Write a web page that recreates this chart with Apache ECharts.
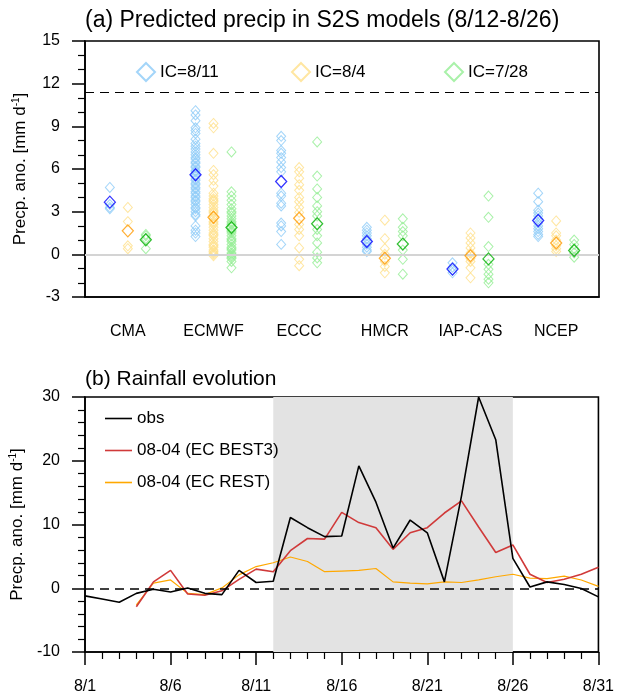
<!DOCTYPE html>
<html>
<head>
<meta charset="utf-8">
<script src="https://cdn.jsdelivr.net/npm/echarts@6/dist/echarts.min.js"></script>
<style>
  html, body { margin: 0; padding: 0; background: #fff; }
  #main { width: 617px; height: 695px; }
</style>
</head>
<body>
<div id="main"></div>
<script>
// models on the x axis of panel (a)
var models = ['CMA', 'ECMWF', 'ECCC', 'HMCR', 'IAP-CAS', 'NCEP'];
var icNames = ['IC=8/11', 'IC=8/4', 'IC=7/28'];

// ensemble members, one list per model, for each initial condition
var membersIC0811 = [
  [4.7, 3.5, 3.3, 3.2],
  [10.1, 9.8, 9.4, 8.9, 8.7, 8.5, 8.1, 7.8, 7.6, 7.4, 7.2, 7.0, 6.8, 6.7, 6.5, 6.4, 6.2, 6.1, 5.9, 5.8,
   5.6, 5.5, 5.3, 5.2, 5.0, 4.9, 4.7, 4.6, 4.4, 4.3, 4.1, 4.0, 3.8, 3.7, 3.5, 3.3, 3.2, 3.0, 2.8, 2.7,
   2.0, 1.7, 1.5, 1.25],
  [8.3, 8.0, 7.3, 7.1, 6.8, 6.5, 6.1, 5.8, 4.3, 4.1, 3.6, 3.4, 2.2, 2.0, 1.6, 0.7],
  [1.9, 1.7, 1.5, 1.3, 1.1, 0.9, 0.7, 0.5, 0.3, 0.2],
  [-0.6, -0.9, -1.1, -1.3],
  [4.3, 3.7, 3.1, 2.9, 2.7, 2.5, 2.2, 2.0, 1.8, 1.6, 1.4, 1.25]
];
var membersIC0804 = [
  [3.3, 2.3, 0.6, 0.4],
  [9.2, 8.9, 7.1, 5.9, 5.6, 5.2, 4.8, 4.3, 4.1, 3.9, 3.8, 3.7, 3.5, 3.3, 3.1, 3.0, 2.9, 2.7, 2.5, 2.3,
   2.2, 2.1, 1.9, 1.7, 1.5, 1.4, 1.3, 1.1, 0.9, 0.7, 0.6, 0.5, 0.3, 0.2, 0.1, 0.0, -0.1],
  [6.1, 5.8, 5.35, 4.9, 4.5, 4.0, 3.7, 3.3, 2.95, 2.1, 1.75, 1.3, 0.45, -0.35, -0.8],
  [2.4, 1.1, 0.4, 0.0, -0.5, -0.85, -1.3],
  [1.5, 1.15, 0.8, 0.45, 0.1, -0.3, -0.5, -0.95, -1.65],
  [2.35, 1.5, 1.3, 1.0, 0.6, 0.4, 0.2]
];
var membersIC0728 = [
  [1.4, 1.3, 1.1, 0.4],
  [7.2, 4.4, 4.1, 3.8, 3.5, 3.2, 3.0, 2.9, 2.7, 2.5, 2.3, 2.2, 2.1, 1.9, 1.7, 1.6, 1.5, 1.3, 1.1, 1.0,
   0.9, 0.7, 0.5, 0.4, 0.3, 0.1, 0.0, -0.1, -0.2, -0.3, -0.5, -0.95],
  [7.9, 5.5, 4.6, 4.0, 3.4, 3.0, 2.7, 1.75, 1.3, 0.8, 0.15, -0.25, -0.6],
  [2.5, 1.9, 1.6, 1.3, 0.3, -0.35, -1.4],
  [4.1, 2.6, 0.55, -0.7, -1.05, -1.4, -1.75, -2.0],
  [1.0, 0.7, 0.4, 0.1, -0.2]
];
// ensemble means
var meanIC0811 = [3.67, 5.6, 5.12, 0.9, -1.04, 2.38];
var meanIC0804 = [1.65, 2.61, 2.54, -0.27, -0.1, 0.79];
var meanIC0728 = [1.02, 1.89, 2.15, 0.72, -0.32, 0.27];
var threshold = 11.4;

// panel (b): daily values, 8/1 ... 8/31
var dayLabels = [];
for (var d = 1; d <= 31; d++) dayLabels.push('8/' + d);
var obs = [-1.2, -1.7, -2.2, -0.8, -0.15, -0.6, 0.05, -0.8, -1.0, 2.8, 0.9, 1.1, 11.1, 9.5, 8.1, 8.2,
  19.2, 13.5, 6.3, 10.7, 8.7, 1.0, 14.5, 30.0, 23.3, 4.7, 0.2, 1.0, 0.6, -0.05, -1.35];
var ecBest3 = [null, null, null, -2.9, 1.0, 2.8, -0.9, -1.1, -0.4, 1.4, 3.0, 2.6, 5.9, 7.8, 7.7, 11.9,
  10.3, 9.5, 6.1, 8.7, 9.5, 11.8, 13.7, 9.6, 5.6, 6.8, 2.2, 0.9, 1.4, 2.2, 3.3];
var ecRest = [null, null, null, -2.6, 0.8, 1.3, -0.8, -1.0, 0.05, 2.1, 3.4, 4.0, 4.9, 4.2, 2.6, 2.7,
  2.8, 3.1, 1.0, 0.8, 0.7, 1.0, 0.9, 1.3, 1.8, 2.2, 1.6, 1.5, 1.9, 1.3, 0.3];
var shadeFrom = '8/12', shadeTo = '8/26';

var memberColors = ['#8ccbf7', '#ffe08a', '#93ee93'];
var meanColors = ['#0000ff', '#ff9a00', '#00b000'];
var offsets = [-0.21, 0, 0.21];
var font = '"Liberation Sans", Arial, Helvetica, sans-serif';

function memberPoints(lists, k) {
  var pts = [];
  lists.forEach(function (vals, i) {
    vals.forEach(function (v) { pts.push([i + offsets[k], v]); });
  });
  return pts;
}
function meanPoints(vals, k) {
  return vals.map(function (v, i) { return [i + offsets[k], v]; });
}
function dayPoints(vals) {
  return vals.map(function (v, i) { return [i, v]; });
}

var allMembers = [membersIC0811, membersIC0804, membersIC0728];
var allMeans = [meanIC0811, meanIC0804, meanIC0728];

var series = [];
allMembers.forEach(function (lists, k) {
  series.push({
    name: icNames[k], type: 'scatter', xAxisIndex: 1, yAxisIndex: 0,
    symbol: 'diamond', symbolSize: [9, 10],
    itemStyle: { color: 'rgba(0,0,0,0)', borderColor: memberColors[k], borderWidth: 1 },
    data: memberPoints(lists, k), z: 3
  });
});
allMeans.forEach(function (vals, k) {
  series.push({
    name: 'mean' + k, type: 'scatter', xAxisIndex: 1, yAxisIndex: 0,
    symbol: 'diamond', symbolSize: [11, 12],
    itemStyle: { color: 'rgba(0,0,0,0)', borderColor: meanColors[k], borderWidth: 1.3 },
    data: meanPoints(vals, k), z: 5
  });
});
// reference lines in (a)
series[0].markLine = {
  silent: true, symbol: 'none', label: { show: false },
  data: [
    { yAxis: threshold, lineStyle: { color: '#000', type: [9, 6], width: 1.2 } },
    { yAxis: 0, lineStyle: { color: '#d4d4d4', type: 'solid', width: 2 } }
  ]
};

var lineColors = ['#000000', '#d03a3a', '#ffa800'];
var lineNames = ['obs', '08-04 (EC BEST3)', '08-04 (EC REST)'];
[obs, ecBest3, ecRest].forEach(function (vals, k) {
  series.push({
    name: lineNames[k], type: 'line', xAxisIndex: 2, yAxisIndex: 1,
    showSymbol: false, symbol: 'none', connectNulls: false,
    lineStyle: { color: lineColors[k], width: k === 2 ? 1.2 : 1.6 },
    itemStyle: { color: lineColors[k] },
    data: dayPoints(vals), z: 4 - k
  });
});
var obsIdx = series.length - 3;
series[obsIdx].markArea = {
  silent: true,
  itemStyle: { color: '#e3e3e3' },
  data: [[{ xAxis: dayLabels.indexOf(shadeFrom) }, { xAxis: dayLabels.indexOf(shadeTo) }]]
};
series[obsIdx].markLine = {
  silent: true, symbol: 'none', label: { show: false },
  data: [{ yAxis: 0, lineStyle: { color: '#000', type: [9, 6], width: 1.5 } }]
};

var yName = 'Precp. ano. [mm d{sup|-1}]';
var yNameStyle = {
  fontFamily: font, fontSize: 17, color: '#000',
  rich: { sup: { fontFamily: font, fontSize: 10, color: '#000', verticalAlign: 'top', padding: [0, 0, 8, 0] } }
};
var axisLineStyle = { color: '#000', width: 1.6 };
var labelStyle = { fontSize: 16, color: '#000', fontFamily: font };

// one legend per IC so the items sit at fixed places
var icLegendLeft = [131, 286, 439];
var legends = icNames.map(function (n, k) {
  return { data: [n], top: 57, left: icLegendLeft[k], icon: 'diamond', itemWidth: 18, itemHeight: 18,
    textStyle: { fontFamily: font, fontSize: 17, color: '#000' } };
});
legends.push({ data: lineNames, top: 404, left: 100, orient: 'vertical', itemGap: 13,
  icon: 'rect', itemWidth: 27, itemHeight: 1.6,
  textStyle: { fontFamily: font, fontSize: 17, color: '#000', lineHeight: 19 } });

var chart = echarts.init(document.getElementById('main'));
chart.setOption({
  animation: false,
  backgroundColor: '#fff',
  textStyle: { fontFamily: font },
  title: [
    { text: '(a) Predicted precip in S2S models (8/12-8/26)', left: 80, top: 4,
      textStyle: { fontFamily: font, fontSize: 23, fontWeight: 'normal', color: '#000' } },
    { text: '(b) Rainfall evolution', left: 80, top: 364,
      textStyle: { fontFamily: font, fontSize: 21, fontWeight: 'normal', color: '#000' } }
  ],
  legend: legends,
  grid: [
    { left: 85, right: 18, top: 41, height: 256, show: true, borderColor: '#000', borderWidth: 1.6 },
    { left: 85, right: 18, top: 397, height: 257, show: true, borderColor: '#000', borderWidth: 1.6 }
  ],
  xAxis: [
    { type: 'category', gridIndex: 0, data: models, boundaryGap: true,
      axisLine: { onZero: false, lineStyle: axisLineStyle },
      axisTick: { alignWithLabel: true, length: 13, lineStyle: { color: '#000', width: 1.5 } },
      axisLabel: Object.assign({ margin: 27 }, labelStyle),
      splitLine: { show: false } },
    { type: 'value', gridIndex: 0, min: -0.5, max: 5.5, show: false },
    { type: 'value', gridIndex: 1, min: 0, max: 30, interval: 5,
      axisLine: { onZero: false, lineStyle: axisLineStyle },
      axisTick: { length: 13, lineStyle: { color: '#000', width: 1.5 } },
      minorTick: { show: true, splitNumber: 5, length: 7, lineStyle: { color: '#000', width: 1.2 } },
      axisLabel: Object.assign({ margin: 27, formatter: function (v) { return dayLabels[v]; } }, labelStyle),
      splitLine: { show: false } }
  ],
  yAxis: [
    { type: 'value', gridIndex: 0, min: -3, max: 15, interval: 3,
      name: yName, nameLocation: 'middle', nameGap: 56, nameTextStyle: yNameStyle,
      axisLine: { show: true, onZero: false, lineStyle: axisLineStyle },
      axisTick: { show: true, length: 13, lineStyle: { color: '#000', width: 1.5 } },
      minorTick: { show: true, splitNumber: 3, length: 7, lineStyle: { color: '#000', width: 1.2 } },
      axisLabel: Object.assign({ margin: 25 }, labelStyle),
      splitLine: { show: false } },
    { type: 'value', gridIndex: 1, min: -10, max: 30, interval: 10,
      name: yName, nameLocation: 'middle', nameGap: 56, nameTextStyle: yNameStyle,
      axisLine: { show: true, onZero: false, lineStyle: axisLineStyle },
      axisTick: { show: true, length: 13, lineStyle: { color: '#000', width: 1.5 } },
      minorTick: { show: true, splitNumber: 5, length: 7, lineStyle: { color: '#000', width: 1.2 } },
      axisLabel: Object.assign({ margin: 25 }, labelStyle),
      splitLine: { show: false } }
  ],
  series: series
});
</script>
</body>
</html>
